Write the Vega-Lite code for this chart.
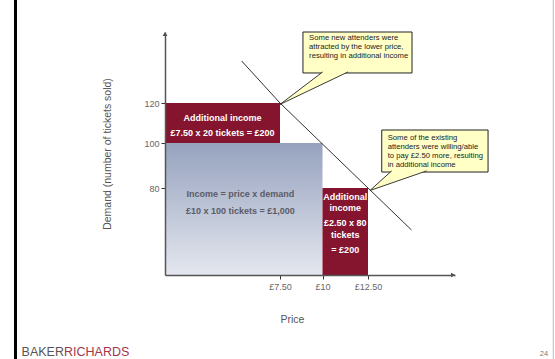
{
  "$schema": "https://vega.github.io/schema/vega-lite/v6.json",
  "width": 290,
  "height": 243,
  "autosize": {"type": "none"},
  "padding": {"left": 165, "top": 32, "right": 100, "bottom": 84},
  "background": "white",
  "config": {"view": {"stroke": null}, "font": "Liberation Sans"},
  "datasets": {
    "base_income": [{"price": 0, "price2": 10, "tickets": 0, "tickets2": 100}],
    "extra_income": [
      {"price": 0, "price2": 7.5, "tickets": 100, "tickets2": 120},
      {"price": 10, "price2": 12.5, "tickets": 0, "tickets2": 80}
    ],
    "demand_curve": [
      {"price": 5, "tickets": 140.7},
      {"price": 7.5, "tickets": 120},
      {"price": 12.5, "tickets": 80},
      {"price": 15, "tickets": 41.4}
    ],
    "extra_labels": [
      {"price": 3.75, "tickets": 112.6, "text": "Additional income"},
      {"price": 3.75, "tickets": 104.8, "text": "£7.50 x 20 tickets = £200"},
      {"price": 11.25, "tickets": 72, "text": "Additional"},
      {"price": 11.25, "tickets": 61.6, "text": "income"},
      {"price": 11.25, "tickets": 48.1, "text": "£2.50 x 80"},
      {"price": 11.25, "tickets": 36.8, "text": "tickets"},
      {"price": 11.25, "tickets": 23, "text": "= £200"}
    ],
    "base_labels": [
      {"price": 4.92, "tickets": 74.2, "text": "Income = price x demand"},
      {"price": 4.92, "tickets": 59.1, "text": "£10 x 100 tickets = £1,000"}
    ],
    "callout_boxes": [
      {"price": 8.85, "price2": 15.03, "tickets": 134.8, "tickets2": 155},
      {"price": 13.29, "price2": 19.4, "tickets": 87.1, "tickets2": 106.5}
    ],
    "callout_pointers": [
      {"id": 1, "o": 1, "price": 10.01, "tickets": 135.3},
      {"id": 1, "o": 2, "price": 7.5, "tickets": 119.3},
      {"id": 1, "o": 3, "price": 11.4, "tickets": 135.3},
      {"id": 2, "o": 1, "price": 13.86, "tickets": 87.6},
      {"id": 2, "o": 2, "price": 12.61, "tickets": 77.7},
      {"id": 2, "o": 3, "price": 15.87, "tickets": 87.6}
    ],
    "callout_text": [
      {"price": 9.21, "tickets": 153.8, "text": "Some new attenders were\nattracted by the lower price,\nresulting in additional income"},
      {"price": 13.63, "tickets": 104.6, "text": "Some of the existing\nattenders were willing/able\nto pay £2.50 more, resulting\nin additional income"}
    ],
    "arrow_up": [{"price": 0, "tickets": 154}],
    "arrow_right": [{"price": 17.39, "tickets": 0}],
    "frame_left": [{"price": -9.75, "tickets": 170.8, "tickets2": -77.2}],
    "frame_right": [{"price": 23.15, "tickets": 170.8, "tickets2": -77.2}],
    "brand_left": [{"price": -6.587, "tickets": -70.5, "text": "BAKER"}],
    "brand_right": [{"price": -6.587, "tickets": -70.5, "text": "RICHARDS"}],
    "page": [{"price": 22.61, "tickets": -72.6, "text": "24"}]
  },
  "encoding": {
    "x": {
      "field": "price",
      "type": "quantitative",
      "scale": {"domain": [0, 7.5, 10, 12.5, 17.5], "range": [0, 115, 157.5, 203, 290], "nice": false, "zero": false, "clamp": false},
      "axis": {
        "values": [7.5, 10, 12.5],
        "labelExpr": "datum.value == 10 ? '£10' : '£' + format(datum.value, '.2f')",
        "title": "Price",
        "grid": false,
        "zindex": 1,
        "domainColor": "#555555",
        "domainWidth": 1.5,
        "tickColor": "#333333",
        "tickSize": 4,
        "labelFont": "Liberation Sans",
        "labelFontSize": 9,
        "labelColor": "#666666",
        "labelPadding": 3,
        "labelOverlap": false,
        "titleFont": "Liberation Sans",
        "titleFontSize": 10.5,
        "titleFontWeight": "normal",
        "titleColor": "#555555",
        "titleX": 127,
        "titleY": 44,
        "titleBaseline": "middle"
      }
    },
    "y": {
      "field": "tickets",
      "type": "quantitative",
      "scale": {"domain": [0, 80, 100, 120, 155], "range": [243, 156, 111, 71, 0], "nice": false, "zero": false, "clamp": false},
      "axis": {
        "values": [80, 100, 120],
        "title": "Demand (number of tickets sold)",
        "grid": false,
        "zindex": 1,
        "domainColor": "#555555",
        "domainWidth": 1.5,
        "tickColor": "#333333",
        "tickSize": 4,
        "labelFont": "Liberation Sans",
        "labelFontSize": 9,
        "labelColor": "#666666",
        "labelPadding": 2,
        "labelOverlap": false,
        "titleFont": "Liberation Sans",
        "titleFontSize": 10.5,
        "titleFontWeight": "normal",
        "titleColor": "#555555",
        "titlePadding": 31
      }
    }
  },
  "layer": [
    {
      "data": {"name": "frame_left"},
      "mark": {"type": "rule", "color": "#000000", "strokeWidth": 3},
      "encoding": {"y2": {"field": "tickets2"}}
    },
    {
      "data": {"name": "frame_right"},
      "mark": {"type": "rule", "color": "#bbbbbb", "strokeWidth": 1},
      "encoding": {"y2": {"field": "tickets2"}}
    },
    {
      "data": {"name": "base_income"},
      "mark": {
        "type": "rect",
        "color": {"gradient": "linear", "x1": 0, "y1": 0, "x2": 0, "y2": 1,
          "stops": [{"offset": 0, "color": "#96a2be"}, {"offset": 1, "color": "#e4e7ef"}]}
      },
      "encoding": {"x2": {"field": "price2"}, "y2": {"field": "tickets2"}}
    },
    {
      "data": {"name": "extra_income"},
      "mark": {"type": "rect", "color": "#85152e"},
      "encoding": {"x2": {"field": "price2"}, "y2": {"field": "tickets2"}}
    },
    {
      "data": {"name": "base_labels"},
      "mark": {"type": "text", "font": "Liberation Sans", "fontSize": 9, "fontWeight": "bold", "color": "#5b5b66", "align": "center", "baseline": "middle"},
      "encoding": {"text": {"field": "text"}}
    },
    {
      "data": {"name": "extra_labels"},
      "mark": {"type": "text", "font": "Liberation Sans", "fontSize": 9, "fontWeight": "bold", "color": "#ffffff", "align": "center", "baseline": "middle"},
      "encoding": {"text": {"field": "text"}}
    },
    {
      "data": {"name": "demand_curve"},
      "mark": {"type": "line", "color": "#333333", "strokeWidth": 1},
      "encoding": {}
    },
    {
      "data": {"name": "callout_boxes"},
      "mark": {"type": "rect", "fill": "#ffffc6", "stroke": "#222222", "strokeWidth": 1},
      "encoding": {"x2": {"field": "price2"}, "y2": {"field": "tickets2"}}
    },
    {
      "data": {"name": "callout_pointers"},
      "mark": {"type": "line", "fill": "#ffffc6", "stroke": "#222222", "strokeWidth": 0.9},
      "encoding": {"order": {"field": "o"}, "detail": {"field": "id"}}
    },
    {
      "data": {"name": "callout_text"},
      "mark": {"type": "text", "font": "Liberation Sans", "fontSize": 7.7, "color": "#222222", "align": "left", "baseline": "top", "lineBreak": "\n", "lineHeight": 9},
      "encoding": {"text": {"field": "text"}}
    },
    {
      "data": {"name": "arrow_up"},
      "mark": {"type": "point", "shape": "triangle-up", "filled": true, "color": "#444444", "size": 22, "opacity": 1},
      "encoding": {}
    },
    {
      "data": {"name": "arrow_right"},
      "mark": {"type": "point", "shape": "triangle-right", "filled": true, "color": "#444444", "size": 22, "opacity": 1},
      "encoding": {}
    },
    {
      "data": {"name": "brand_left"},
      "mark": {"type": "text", "font": "Liberation Sans", "fontSize": 12.5, "color": "#555555", "align": "right", "baseline": "middle"},
      "encoding": {"text": {"field": "text"}}
    },
    {
      "data": {"name": "brand_right"},
      "mark": {"type": "text", "font": "Liberation Sans", "fontSize": 12.5, "color": "#a3364a", "align": "left", "baseline": "middle"},
      "encoding": {"text": {"field": "text"}}
    },
    {
      "data": {"name": "page"},
      "mark": {"type": "text", "font": "Liberation Sans", "fontSize": 7.5, "color": "#777777", "align": "center", "baseline": "middle"},
      "encoding": {"text": {"field": "text"}}
    }
  ]
}
